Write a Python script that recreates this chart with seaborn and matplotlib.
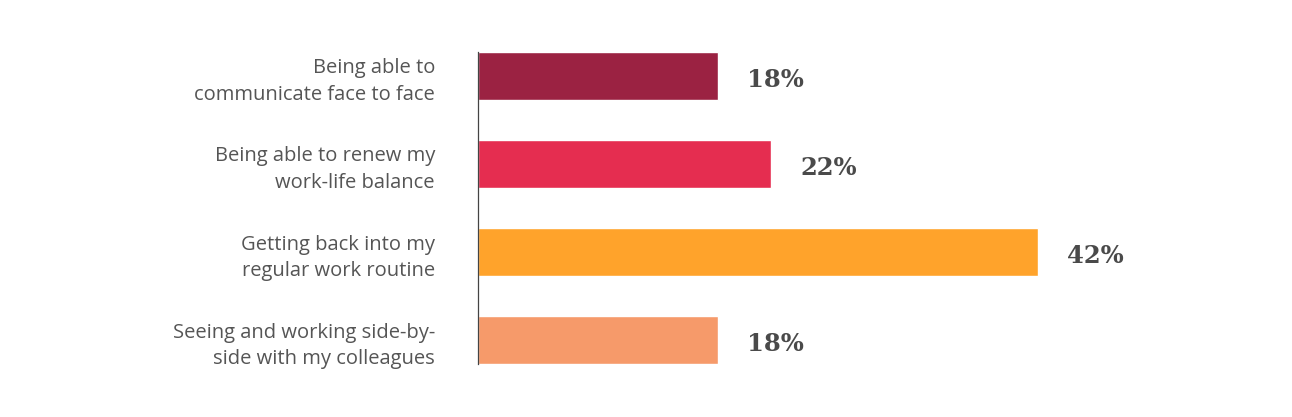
import numpy as np
import pandas as pd
import matplotlib
matplotlib.use("Agg")
import matplotlib.pyplot as plt
import seaborn as sns

# ------------------------------
# Data
# ------------------------------
labels = [
    "Being able to\ncommunicate face to face",
    "Being able to renew my\nwork-life balance",
    "Getting back into my\nregular work routine",
    "Seeing and working side-by-\nside with my colleagues",
]
values = [18, 22, 42, 18]
colors = ["#9B2242", "#E52D50", "#FFA32B", "#F69A6A"]

df = pd.DataFrame({"label": labels, "value": values})

# ------------------------------
# Plot
# ------------------------------
sns.set_style("white")
plt.rcParams["font.family"] = ["Open Sans", "DejaVu Sans"]

fig = plt.figure(figsize=(12.92, 4.17), dpi=100)
ax = fig.add_axes([478 / 1292, 53 / 417, 666.7 / 1292, 312 / 417])

bar_h = 0.545
sns.barplot(data=df, x="value", y="label", hue="label", palette=colors,
            legend=False, width=bar_h, saturation=1, ax=ax)

ax.set_xlim(0, 50)
ax.set_ylim(3 + bar_h / 2, -bar_h / 2)

for i, v in enumerate(values):
    ax.text(v + 2.2, i + 0.04, f"{v}%", va="center", ha="left",
            fontsize=17.5, fontweight="bold", color="#4a4a4a",
            family=["DejaVu Serif"])

for s in ["top", "right", "bottom"]:
    ax.spines[s].set_visible(False)
ax.spines["left"].set_color("#444444")
ax.spines["left"].set_linewidth(0.9)

ax.set_xticks([])
ax.set_xlabel("")
ax.set_ylabel("")
ax.tick_params(axis="y", length=0, pad=31, labelsize=14.5, labelcolor="#555555")
for t in ax.get_yticklabels():
    t.set_linespacing(1.45)

fig.savefig("out.png", dpi=100)
